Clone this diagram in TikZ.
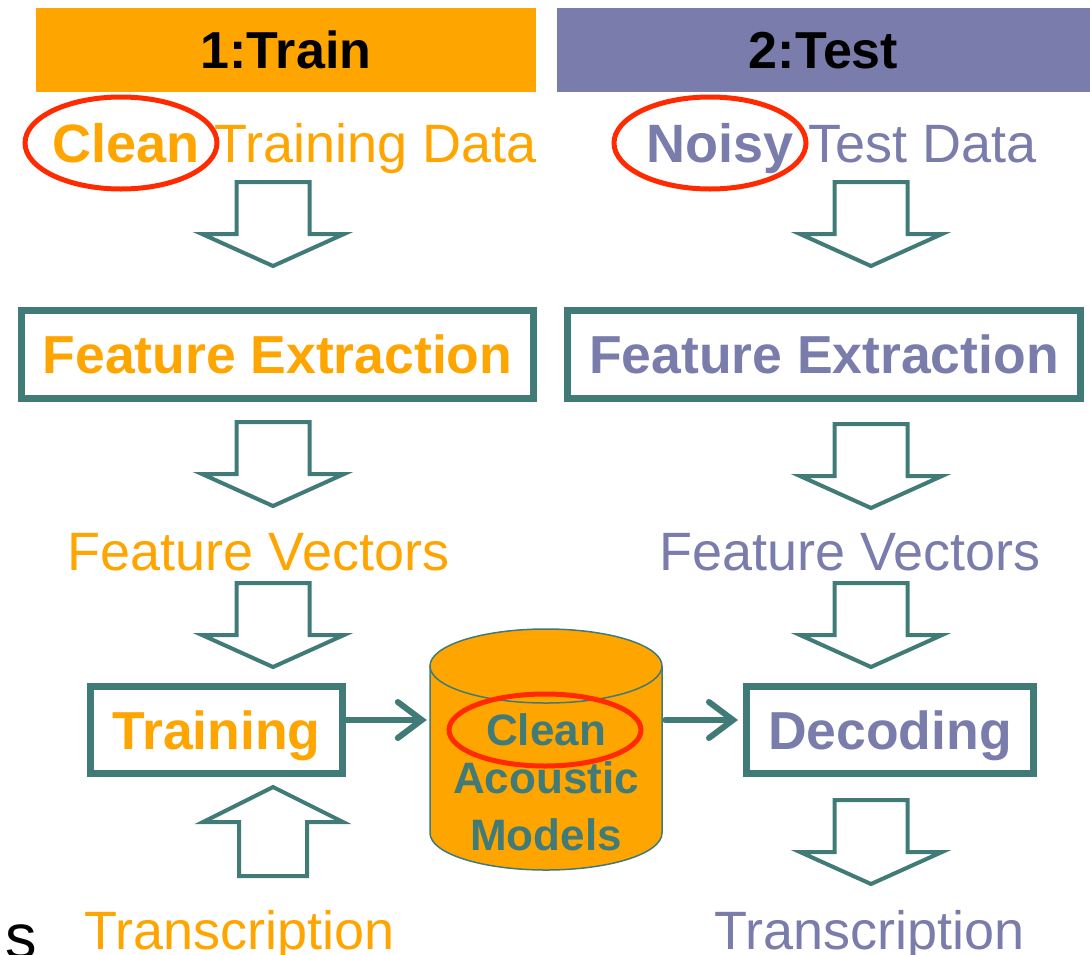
\documentclass[tikz,border=0pt]{standalone}
\usepackage{fontspec}
\setmainfont{Liberation Sans}
\usetikzlibrary{arrows.meta}
\definecolor{tor}{HTML}{FFA500}
\definecolor{tpu}{HTML}{7A7CAB}
\definecolor{tte}{HTML}{417B78}
\definecolor{tre}{HTML}{FF2A00}
\newcommand{\fbig}{\fontsize{54}{60}\selectfont}
\newcommand{\fboxtxt}{\fontsize{53.5}{60}\selectfont\bfseries}
\newcommand{\fhead}{\fontsize{52}{60}\selectfont\bfseries}
\newcommand{\fcyl}{\fontsize{44}{50}\selectfont\bfseries}
\tikzset{
 boxsty/.style={draw=tte, line width=7pt, fill=white, inner sep=0pt, text height=38pt, text depth=0pt, font=\fboxtxt},
 barrow/.style={draw=tte, line width=4pt, fill=white, line join=miter},
 ring/.style={draw=tre, line width=5pt},
 conn/.style={draw=tte, line width=6pt, line cap=round, -{Straight Barb[length=24pt,width=36pt,line cap=round]}},
 lbl/.style={anchor=base, inner sep=0pt},
 darrow/.pic={\draw[barrow] (-36.5,0) -- (36.5,0) -- (36.5,52) -- (71,52) -- (0,84) -- (-71,52) -- (-36.5,52) -- cycle;},
 uarrow/.pic={\draw[barrow] (0,0) -- (70,35) -- (34,35) -- (34,89) -- (-34,89) -- (-34,35) -- (-70,35) -- cycle;},
}
\begin{document}
\begin{tikzpicture}[x=1pt,y=-1pt]
\useasboundingbox (0,0) rectangle (1090,954);
% headers
\node[fill=tor, minimum width=500, minimum height=84, inner sep=0pt, text height=37pt, text depth=0pt, font=\fhead] (h1) at (286,50) {1:Train};
\node[fill=tpu, minimum width=533, minimum height=84, inner sep=0pt, text height=37pt, text depth=0pt, font=\fhead] (h2) at (823.5,50) {2:Test};
% data lines
\node[anchor=base west, inner sep=0pt, text=tor, font=\fbig] (ctd) at (52,162) {\textbf{Clean} Training Data};
\draw[ring] (121,143) ellipse [x radius=96, y radius=46];
\node[anchor=base west, inner sep=0pt, text=tpu, font=\fbig] (ntd) at (646,162) {\textbf{Noisy} Test Data};
\draw[ring] (710,143) ellipse [x radius=96, y radius=46];
% block arrows
\pic at (273,182) {darrow};
\pic at (871,182) {darrow};
\pic at (273,422) {darrow};
\pic at (871,424) {darrow};
\pic at (273,583) {darrow};
\pic at (871,583) {darrow};
\pic at (273,787) {uarrow};
\pic at (871,800) {darrow};
% feature extraction boxes
\node[boxsty, minimum width=512, minimum height=88, text=tor] (fe1) at (277.5,354.5) {Feature Extraction};
\node[boxsty, minimum width=513, minimum height=88, text=tpu] (fe2) at (824,354.5) {Feature Extraction};
% feature vectors
\node[lbl, text=tor, font=\fbig] (fv1) at (258.5,570) {Feature Vectors};
\node[lbl, text=tpu, font=\fbig] (fv2) at (850,570) {Feature Vectors};
% training / decoding
\node[boxsty, minimum width=252, minimum height=87, text=tor] (tr) at (216.5,730) {Training};
\node[boxsty, minimum width=287, minimum height=87, text=tpu] (dec) at (890,730) {Decoding};
% cylinder
\fill[tor] (430,666) rectangle (662,833);
\fill[tor] (546,833) ellipse [x radius=116, y radius=37];
\draw[tte, line width=1.5pt, fill=tor] (430,666) -- (430,833) arc[start angle=180, end angle=0, x radius=116, y radius=37] -- (662,666);
\draw[tte, line width=1.5pt, fill=tor] (546,666) ellipse [x radius=116, y radius=37];
\node[inner sep=0pt, minimum width=232, minimum height=204] (cyl) at (546,750) {};
\node[lbl, text=tte, font=\fcyl] (c1) at (546,745) {Clean};
\node[lbl, text=tte, font=\fcyl] (c2) at (546,793) {Acoustic};
\node[lbl, text=tte, font=\fcyl] (c3) at (546,850) {Models};
\draw[ring] (545,730) ellipse [x radius=96, y radius=36];
% connectors
\coordinate (ay) at (0,720);
\draw[conn] (tr.east |- ay) -- ([xshift=-3pt]cyl.west |- ay);
\draw[conn] ([xshift=3pt]cyl.east |- ay) -- ([xshift=-5pt]dec.west |- ay);
% transcriptions
\node[lbl, text=tor, font=\fbig] (t1) at (240,949) {Transcription};
\node[lbl, text=tpu, font=\fbig] (t2) at (870,949) {Transcription};
\node[anchor=base west, inner sep=0pt, text=black, font=\fontsize{63}{70}\selectfont] (s) at (5,958) {s};
\end{tikzpicture}
\end{document}
